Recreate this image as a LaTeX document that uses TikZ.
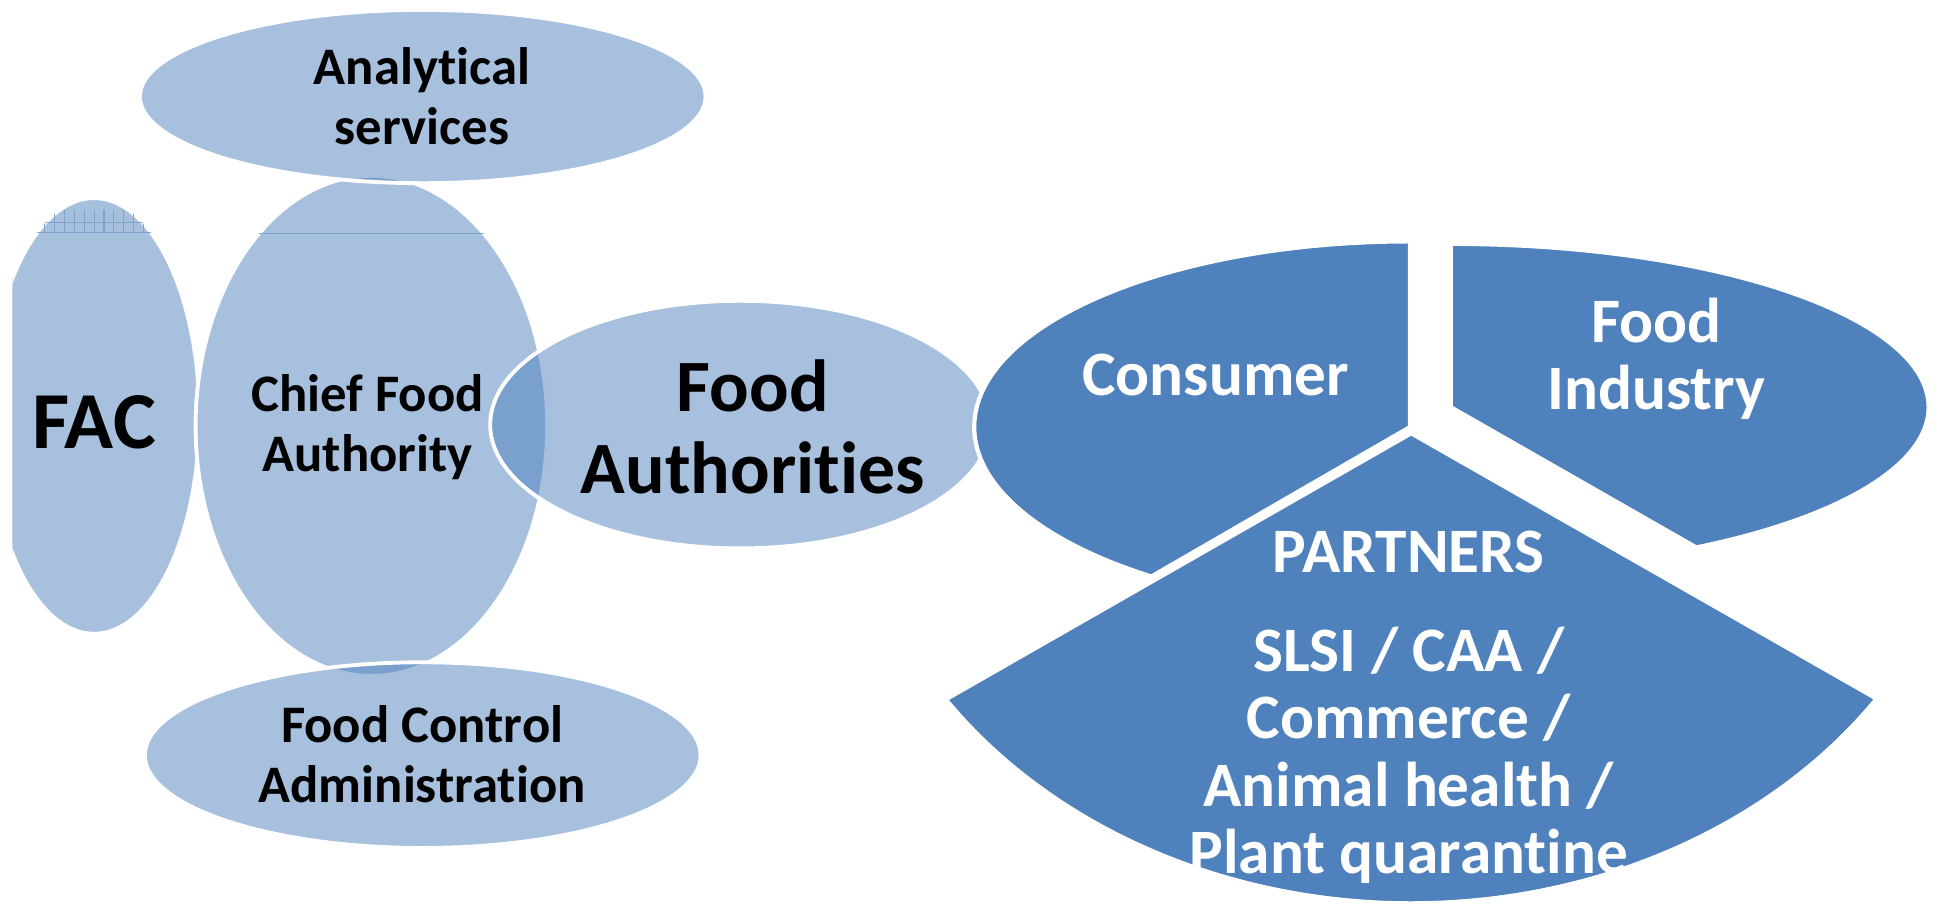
\documentclass[tikz,border=0pt]{standalone}
\usepackage{fontspec}
\setmainfont{Carlito}[Ligatures=NoCommon]
\usetikzlibrary{positioning}

\definecolor{officeblue}{HTML}{4F81BD}
\definecolor{gridblue}{HTML}{7FA2CF}

\tikzset{
  lightshape/.style={fill=officeblue, fill opacity=0.5, draw=white, line width=1.1pt},
  darkshape/.style={fill=officeblue, draw=white, line width=1.2pt, line join=round},
  gridline/.style={draw=gridblue, line width=0.3pt},
  blacktxt/.style={align=center, inner sep=0pt, text=black},
  whitetxt/.style={align=center, inner sep=0pt, text=white},
  smallfont/.style={font=\bfseries\fontsize{15}{17}\selectfont},
  midfont/.style={font=\bfseries\fontsize{18}{19.2}\selectfont},
  bigfont/.style={font=\bfseries\fontsize{21}{23.2}\selectfont},
  hugefont/.style={font=\bfseries\fontsize{23}{26}\selectfont}
}

\begin{document}
\begin{tikzpicture}[x=0.012379cm, y=-0.012379cm]
	\useasboundingbox (0,0) rectangle (1568,734);
	% FAC, clipped at the left edge
	\begin{scope}
		\clip (10,0) rectangle (400,734);
		\path[lightshape] (76,336) ellipse [x radius=85, y radius=176];
	\end{scope}
	\begin{scope}
		\clip (76,336) ellipse [x radius=85, y radius=176];
		\foreach \gx in {20,28,...,140}
			\draw[gridline] (\gx,170) -- (\gx,188);
		\draw[gridline] (0,180) -- (200,180);
		\draw[gridline] (0,188) -- (200,188);
	\end{scope}
	% Chief Food Authority
	\path[lightshape] (300,344) ellipse [x radius=142, y radius=202];
	\begin{scope}
		\clip (300,344) ellipse [x radius=142, y radius=202];
		\draw[gridline] (150,189) -- (450,189);
	\end{scope}
	% Food Authorities, Analytical services, Food Control Administration
	\path[lightshape] (598,343) ellipse [x radius=202, y radius=100];
	\path[lightshape] (341.5,78) ellipse [x radius=228.5, y radius=70];
	\path[lightshape] (341.5,610) ellipse [x radius=224.5, y radius=75];
	% partners pie
	\coordinate (contip) at (1139,345);
	\coordinate (indtip) at (1172,329);
	\coordinate (partip) at (1140,350);
	\path[darkshape] (contip) -- ++(0,-150) arc[start angle=270, end angle=126.4, x radius=352, y radius=150] -- cycle;
	\path[darkshape] (indtip) -- ++(0,-132) arc[start angle=-90, end angle=59.1, x radius=386, y radius=132] -- cycle;
	\path[darkshape] (partip) -- (764,565) arc[start angle=145.5, end angle=34.4, x radius=456, y radius=380] -- cycle;
	% labels
	\node[blacktxt, hugefont] (fac) at (76,341) {FAC};
	\node[blacktxt, smallfont] (chief) at (297,345) {Chief Food\\Authority};
	\node[blacktxt, bigfont] (foodauth) at (608,345) {Food\\Authorities};
	\node[blacktxt, smallfont] (analytic) at (341,78) {Analytical\\services};
	\node[blacktxt, smallfont] (control) at (341,609) {Food Control\\Administration};
	\node[whitetxt, midfont] (consumer) at (982,303) {Consumer};
	\node[whitetxt, midfont] (industry) at (1338,290) {Food\\Industry};
	\node[whitetxt, midfont, anchor=north] (partners) at (1138,428)
		{PARTNERS\\[9pt] SLSI / CAA /\\Commerce /\\Animal health /\\Plant quarantine};
\end{tikzpicture}
\end{document}
